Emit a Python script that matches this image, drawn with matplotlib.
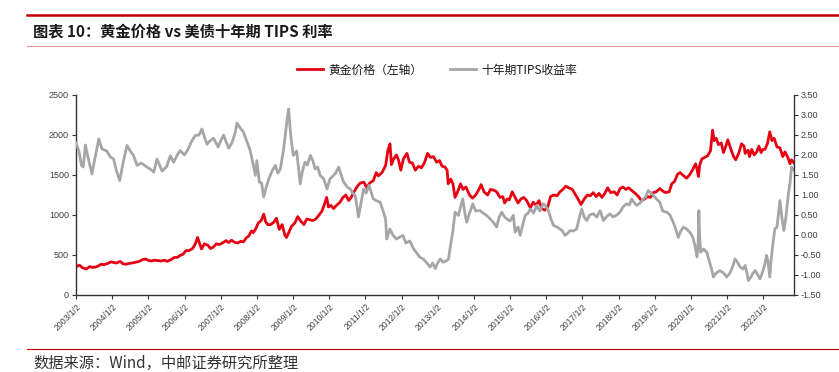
import matplotlib
matplotlib.use("Agg")
import matplotlib.pyplot as plt
from matplotlib.lines import Line2D
from matplotlib.ticker import FormatStrFormatter, FixedLocator

plt.rcParams['font.family'] = ['Noto Sans CJK SC', 'DejaVu Sans']

# ---------------- data (decimal year, value) ----------------
gold_t = [2003.00, 2003.05, 2003.10, 2003.18, 2003.28, 2003.38, 2003.45, 2003.55, 2003.62, 2003.70, 2003.78, 2003.88, 2003.97,
          2004.05, 2004.12, 2004.22, 2004.30, 2004.38, 2004.47, 2004.55, 2004.65, 2004.75, 2004.85, 2004.93, 2004.98,
          2005.08, 2005.17, 2005.25, 2005.35, 2005.45, 2005.52, 2005.62, 2005.72, 2005.80, 2005.88, 2005.96,
          2006.04, 2006.12, 2006.22, 2006.30, 2006.36, 2006.42, 2006.47, 2006.55, 2006.65, 2006.72, 2006.80, 2006.88, 2006.96,
          2007.05, 2007.15, 2007.22, 2007.30, 2007.38, 2007.47, 2007.55, 2007.63, 2007.70, 2007.78, 2007.85, 2007.90, 2007.96,
          2008.04, 2008.12, 2008.19, 2008.24, 2008.30, 2008.38, 2008.47, 2008.54, 2008.62, 2008.70, 2008.78, 2008.82, 2008.88, 2008.96,
          2009.05, 2009.13, 2009.22, 2009.30, 2009.38, 2009.46, 2009.55, 2009.63, 2009.72, 2009.80, 2009.88, 2009.93, 2009.98,
          2010.05, 2010.12, 2010.20, 2010.30, 2010.38, 2010.46, 2010.54, 2010.62, 2010.70, 2010.78, 2010.86, 2010.96,
          2011.04, 2011.12, 2011.22, 2011.30, 2011.36, 2011.46, 2011.56, 2011.62, 2011.68, 2011.72, 2011.78, 2011.86, 2011.92, 2011.98,
          2012.05, 2012.15, 2012.22, 2012.30, 2012.38, 2012.47, 2012.55, 2012.63, 2012.72, 2012.80, 2012.88, 2012.97,
          2013.05, 2013.12, 2013.20, 2013.26, 2013.29, 2013.36, 2013.42, 2013.48, 2013.55, 2013.63, 2013.70, 2013.78, 2013.88, 2013.96,
          2014.05, 2014.14, 2014.20, 2014.28, 2014.38, 2014.46, 2014.55, 2014.63, 2014.72, 2014.80, 2014.85, 2014.92, 2014.98,
          2015.06, 2015.14, 2015.22, 2015.30, 2015.38, 2015.46, 2015.56, 2015.64, 2015.72, 2015.80, 2015.88, 2015.96,
          2016.04, 2016.12, 2016.20, 2016.30, 2016.38, 2016.46, 2016.54, 2016.62, 2016.72, 2016.80, 2016.88, 2016.96,
          2017.05, 2017.14, 2017.22, 2017.30, 2017.38, 2017.46, 2017.54, 2017.62, 2017.70, 2017.78, 2017.88, 2017.96,
          2018.04, 2018.12, 2018.20, 2018.28, 2018.38, 2018.46, 2018.55, 2018.63, 2018.72, 2018.80, 2018.88, 2018.96,
          2019.04, 2019.14, 2019.22, 2019.30, 2019.40, 2019.47, 2019.55, 2019.63, 2019.70, 2019.80, 2019.88, 2019.96,
          2020.04, 2020.13, 2020.16, 2020.21, 2020.24, 2020.30, 2020.38, 2020.46, 2020.54, 2020.60, 2020.64, 2020.70, 2020.76, 2020.84, 2020.90, 2020.98,
          2021.02, 2021.10, 2021.18, 2021.24, 2021.32, 2021.40, 2021.47, 2021.50, 2021.58, 2021.62, 2021.68, 2021.75, 2021.82, 2021.88, 2021.94, 2021.99,
          2022.05, 2022.12, 2022.18, 2022.24, 2022.30, 2022.38, 2022.46, 2022.54, 2022.60, 2022.68, 2022.74, 2022.78, 2022.85]
gold_v = [350, 365, 372, 340, 325, 355, 345, 350, 365, 385, 380, 395, 415,
          405, 400, 420, 390, 385, 395, 400, 410, 420, 445, 450, 435,
          425, 435, 430, 425, 435, 420, 440, 470, 470, 495, 510,
          555, 555, 580, 640, 720, 640, 575, 640, 620, 580, 600, 640, 630,
          650, 680, 655, 685, 660, 650, 670, 665, 710, 740, 800, 780, 820,
          900, 930, 1010, 920, 880, 880, 910, 960, 820, 880, 740, 720, 780, 860,
          900, 980, 920, 880, 950, 940, 930, 950, 1000, 1050, 1150, 1220, 1100,
          1120, 1080, 1120, 1160, 1220, 1250, 1180, 1230, 1300, 1360, 1400, 1410,
          1340, 1400, 1430, 1530, 1490, 1530, 1620, 1800, 1890, 1630, 1700, 1750, 1680, 1560,
          1700, 1770, 1660, 1650, 1560, 1610, 1590, 1650, 1770, 1720, 1730, 1660,
          1680, 1610, 1600, 1560, 1390, 1450, 1390, 1220, 1290, 1390, 1320, 1350, 1250, 1210,
          1250, 1320, 1380, 1290, 1250, 1320, 1310, 1290, 1220, 1230, 1150, 1200, 1190,
          1290, 1220, 1150, 1200, 1220, 1180, 1090, 1160, 1120, 1180, 1080, 1060,
          1100, 1230, 1250, 1240, 1290, 1320, 1360, 1340, 1320, 1260, 1200, 1130,
          1200, 1250, 1240, 1280, 1230, 1270, 1220, 1270, 1340, 1280, 1290, 1250,
          1330, 1350, 1320, 1340, 1300, 1270, 1230, 1180, 1200, 1230, 1220, 1280,
          1290, 1330, 1300, 1280, 1290, 1390, 1420, 1510, 1530, 1490, 1460, 1500,
          1560, 1640, 1590, 1480, 1620, 1700, 1720, 1740, 1800, 2060, 1930, 1960, 1880, 1900, 1780, 1880,
          1940, 1830, 1730, 1690, 1770, 1890, 1860, 1770, 1810, 1730, 1820, 1750, 1790, 1860, 1780, 1820,
          1820, 1900, 2040, 1930, 1960, 1850, 1840, 1730, 1790, 1720, 1640, 1690, 1650]

tips_t = [2003.00, 2003.08, 2003.15, 2003.20, 2003.26, 2003.33, 2003.44, 2003.52, 2003.63, 2003.72, 2003.85, 2003.95,
          2004.04, 2004.12, 2004.21, 2004.30, 2004.41, 2004.50, 2004.59, 2004.69, 2004.80, 2004.96,
          2005.05, 2005.15, 2005.24, 2005.38, 2005.50, 2005.61, 2005.70, 2005.80, 2005.88,
          2006.00, 2006.10, 2006.20, 2006.30, 2006.40, 2006.48, 2006.55, 2006.62, 2006.70, 2006.80, 2006.93,
          2007.00, 2007.08, 2007.22, 2007.31, 2007.40, 2007.45, 2007.52, 2007.63, 2007.72, 2007.82, 2007.90, 2007.96,
          2008.00, 2008.07, 2008.13, 2008.19, 2008.26, 2008.33, 2008.42, 2008.51, 2008.58, 2008.65, 2008.74, 2008.80, 2008.85, 2008.88, 2008.92, 2008.96,
          2009.01, 2009.10, 2009.20, 2009.26, 2009.33, 2009.40, 2009.48, 2009.55, 2009.61, 2009.68, 2009.75, 2009.85, 2009.94,
          2010.02, 2010.08, 2010.18, 2010.26, 2010.33, 2010.40, 2010.50, 2010.58, 2010.65, 2010.72, 2010.81, 2010.88, 2010.95,
          2011.02, 2011.10, 2011.22, 2011.32, 2011.41, 2011.50, 2011.56, 2011.59, 2011.68, 2011.76, 2011.86, 2011.95,
          2012.04, 2012.12, 2012.23, 2012.33, 2012.42, 2012.50, 2012.60, 2012.70, 2012.79, 2012.86, 2012.93,
          2013.00, 2013.07, 2013.15, 2013.25, 2013.30, 2013.34, 2013.42, 2013.48, 2013.57, 2013.63, 2013.69, 2013.75, 2013.80, 2013.88, 2013.97,
          2014.05, 2014.17, 2014.25, 2014.35, 2014.45, 2014.55, 2014.63, 2014.70, 2014.77, 2014.85, 2014.91,
          2015.00, 2015.09, 2015.14, 2015.22, 2015.28, 2015.35, 2015.42, 2015.50, 2015.56, 2015.65, 2015.74, 2015.82, 2015.92,
          2016.00, 2016.06, 2016.13, 2016.20, 2016.30, 2016.38, 2016.45, 2016.52, 2016.60, 2016.66, 2016.75, 2016.84, 2016.92, 2016.98,
          2017.05, 2017.12, 2017.20, 2017.30, 2017.40, 2017.49, 2017.58, 2017.66, 2017.76, 2017.85, 2017.95,
          2018.04, 2018.12, 2018.22, 2018.30, 2018.36, 2018.44, 2018.50, 2018.60, 2018.68, 2018.75, 2018.82, 2018.90, 2018.96,
          2019.05, 2019.14, 2019.22, 2019.33, 2019.42, 2019.51, 2019.58, 2019.65, 2019.72, 2019.79, 2019.88, 2019.97,
          2020.05, 2020.11, 2020.17, 2020.20, 2020.22, 2020.24, 2020.27, 2020.35, 2020.44, 2020.52, 2020.57, 2020.62, 2020.70, 2020.80, 2020.90, 2020.99,
          2021.08, 2021.15, 2021.22, 2021.30, 2021.36, 2021.44, 2021.50, 2021.55, 2021.59, 2021.66, 2021.72, 2021.78, 2021.85, 2021.91, 2021.97,
          2022.04, 2022.09, 2022.13, 2022.18, 2022.22, 2022.27, 2022.32, 2022.38, 2022.46, 2022.52, 2022.57, 2022.62, 2022.69, 2022.74, 2022.78, 2022.85]
tips_v = [2.30, 2.10, 1.75, 1.70, 2.25, 1.95, 1.53, 1.90, 2.40, 2.15, 2.10, 1.95,
          1.90, 1.60, 1.36, 1.80, 2.24, 2.10, 1.99, 1.74, 1.80, 1.70,
          1.65, 1.57, 1.90, 1.60, 1.70, 1.98, 1.82, 2.00, 2.11,
          2.00, 2.15, 2.35, 2.49, 2.50, 2.65, 2.45, 2.27, 2.35, 2.42, 2.20,
          2.35, 2.50, 2.17, 2.30, 2.55, 2.80, 2.70, 2.57, 2.35, 2.10, 1.75, 1.49,
          1.86, 1.32, 1.30, 0.95, 1.20, 1.40, 1.60, 1.74, 1.55, 1.65, 2.15, 2.60, 2.99, 3.15, 2.65, 2.30,
          1.99, 2.10, 1.28, 1.60, 1.82, 1.75, 1.99, 1.85, 1.65, 1.70, 1.49, 1.40, 1.15,
          1.40, 1.45, 1.55, 1.70, 1.50, 1.32, 1.20, 1.15, 1.05, 0.99, 0.45, 0.80, 1.15,
          1.05, 1.24, 0.90, 0.85, 0.82, 0.57, 0.40, -0.10, 0.15, 0.00, -0.10, -0.05,
          -0.01, -0.20, -0.15, -0.34, -0.45, -0.55, -0.60, -0.70, -0.80, -0.70, -0.84,
          -0.70, -0.60, -0.68, -0.64, -0.60, -0.34, 0.10, 0.57, 0.49, 0.70, 0.90, 0.55, 0.32, 0.55, 0.78,
          0.60, 0.61, 0.55, 0.49, 0.40, 0.30, 0.20, 0.45, 0.57, 0.45, 0.40,
          0.35, 0.49, 0.07, 0.20, -0.01, 0.25, 0.49, 0.55, 0.65, 0.55, 0.74, 0.60, 0.78,
          0.70, 0.61, 0.40, 0.24, 0.20, 0.15, 0.10, -0.01, 0.05, 0.11, 0.10, 0.15, 0.45, 0.65,
          0.45, 0.36, 0.50, 0.53, 0.45, 0.61, 0.36, 0.45, 0.53, 0.45, 0.50,
          0.57, 0.70, 0.78, 0.75, 0.90, 0.80, 0.74, 0.80, 0.90, 0.95, 1.11, 1.05, 0.99,
          0.90, 0.82, 0.60, 0.57, 0.50, 0.32, 0.15, -0.06, 0.10, 0.20, 0.15, 0.07,
          -0.05, -0.26, -0.55, -0.20, 0.61, 0.00, -0.43, -0.35, -0.43, -0.70, -0.84, -1.05, -0.95, -0.89, -0.95, -1.05,
          -0.95, -0.80, -0.60, -0.70, -0.80, -0.85, -0.76, -0.95, -1.14, -1.05, -0.95, -0.89, -1.00, -1.10, -0.95,
          -0.75, -0.51, -0.65, -1.05, -0.60, -0.20, 0.15, 0.20, 0.86, 0.40, 0.11, 0.40, 0.99, 1.30, 1.70, 1.62]

years = list(range(2003, 2023))
xtick_labels = [f"{y}/1/2" for y in years]
left_ticks = [0, 500, 1000, 1500, 2000, 2500]
right_ticks = [-1.5, -1.0, -0.5, 0.0, 0.5, 1.0, 1.5, 2.0, 2.5, 3.0, 3.5]

title_text = "图表 10：黄金价格 vs 美债十年期 TIPS 利率"
source_text = "数据来源：Wind，中邮证券研究所整理"
gold_label = "黄金价格（左轴）"
tips_label = "十年期TIPS收益率"

# ---------------- figure ----------------
W, H = 839, 372
fig = plt.figure(figsize=(W / 100, H / 100), dpi=100)

RED = '#E60012'
GRAY = '#A6A6A6'
AX_COLOR = '#404040'

# decorations
fig.add_artist(Line2D([27 / W, 1], [1 - 14.7 / H] * 2, color='#C00000', lw=1.8))
fig.add_artist(Line2D([27 / W, 1], [1 - 46 / H] * 2, color='#E39A9A', lw=0.8))
fig.add_artist(Line2D([27 / W, 1], [1 - 349.3 / H] * 2, color='#C00000', lw=0.8))
fig.text(33 / W, 1 - 32 / H, title_text, fontsize=11, fontweight='bold', va='center', ha='left', color='#1a1a1a')
fig.text(33 / W, 1 - 363.5 / H, source_text, fontsize=11, va='center', ha='left', color='#333333')

ax = fig.add_axes([76 / W, 1 - 295 / H, (794 - 76) / W, (295 - 95) / H])
ax2 = ax.twinx()

xstart, xend = 2003.0, 2022.85
l1, = ax.plot(gold_t, gold_v, color=RED, lw=2.0, solid_joinstyle='round')
l2, = ax2.plot(tips_t, tips_v, color=GRAY, lw=2.0, solid_joinstyle='round')

ax.set_xlim(xstart, xend)
ax.set_ylim(0, 2500)
ax2.set_ylim(-1.5, 3.5)
ax.yaxis.set_major_locator(FixedLocator(left_ticks))
ax2.yaxis.set_major_locator(FixedLocator(right_ticks))
ax2.yaxis.set_major_formatter(FormatStrFormatter('%.2f'))

xt = [y + 1.0 / 365 for y in years]
ax.set_xticks(xt)
ax.set_xticklabels(xtick_labels, rotation=45, ha='right', rotation_mode='anchor',
                   fontsize=6.2, color=AX_COLOR, family=['Liberation Sans', 'DejaVu Sans'])

for a in (ax, ax2):
    a.spines['top'].set_visible(False)
    for s in a.spines.values():
        s.set_color('#333333')
        s.set_linewidth(1.0)
    a.tick_params(axis='both', direction='out', length=3, width=0.8, color='#333333',
                  labelsize=6.5, labelcolor=AX_COLOR, pad=2)
ax.tick_params(axis='x', labelsize=6.2)
ax.spines['right'].set_visible(False)
ax2.spines['left'].set_visible(False)
ax2.spines['bottom'].set_visible(False)
for lab in ax.get_yticklabels() + ax2.get_yticklabels():
    lab.set_family(['Liberation Sans', 'DejaVu Sans'])

fig.legend([l1, l2], [gold_label, tips_label], loc='center', bbox_to_anchor=(437 / W, 1 - 70 / H),
           ncol=2, frameon=False, fontsize=8.5, handlelength=2.2, columnspacing=2.4, handletextpad=0.4,
           labelcolor='#1a1a1a')

fig.savefig('out.png', dpi=100)
